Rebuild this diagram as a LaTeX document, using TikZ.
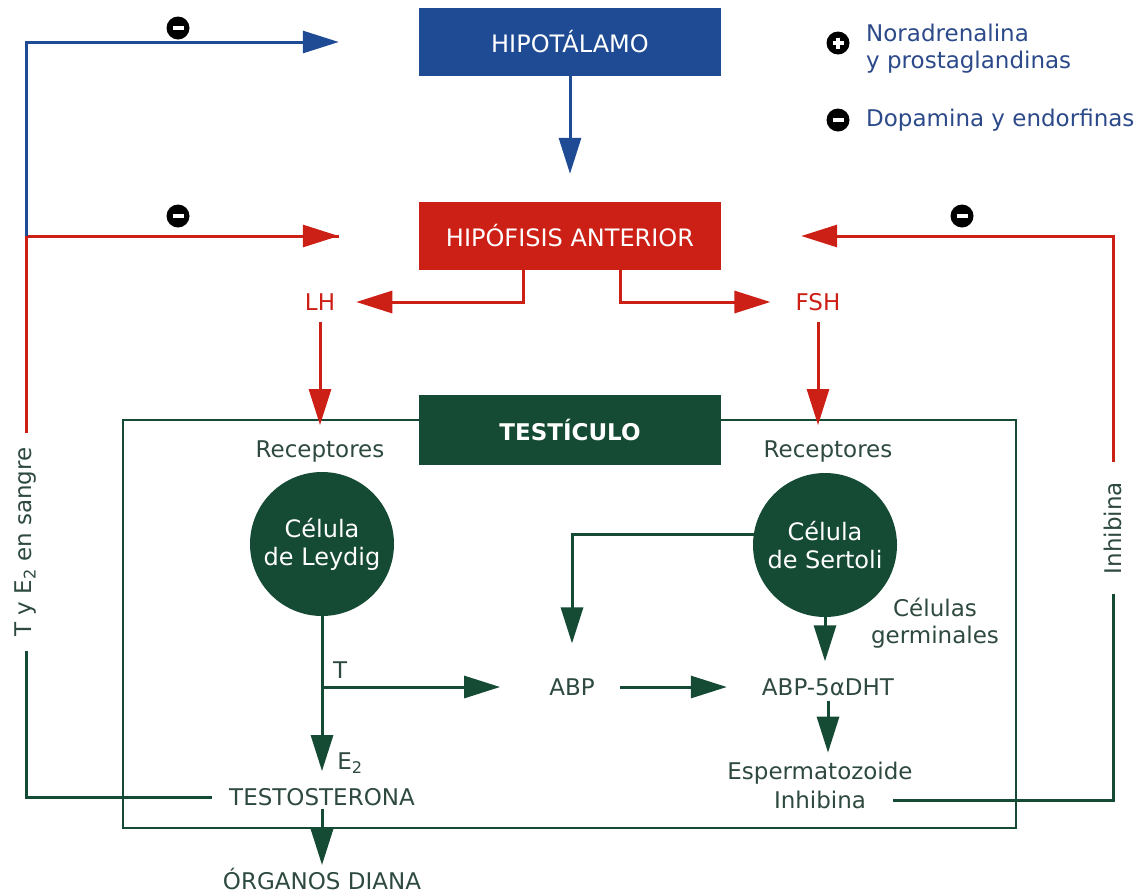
\documentclass[tikz,border=0pt]{standalone}
\usepackage{fontspec}
\setmainfont{DejaVu Sans}
\usetikzlibrary{arrows.meta,calc}

\definecolor{hipoblue}{HTML}{1F4B94}
\definecolor{hipored}{HTML}{CC1F16}
\definecolor{testgreen}{HTML}{154A34}
\definecolor{txtgreen}{HTML}{2E4A3E}
\definecolor{legblue}{HTML}{2C4A8A}

\tikzset{
  box/.style={rectangle, minimum width=302pt, minimum height=68pt, text=white,
    font=\fontsize{24}{28}\selectfont},
  cell/.style={circle, fill=testgreen, minimum size=144pt, inner sep=0pt,
    text=white, align=center, font=\fontsize{24}{28}\selectfont},
  lbl/.style={text=txtgreen, align=center, inner sep=3pt},
  hormone/.style={text=hipored, inner sep=3pt},
  legtext/.style={text=legblue, align=left, anchor=west, inner sep=0pt},
  sign/.style={circle, fill=black, minimum size=23pt, inner sep=0pt},
  minussign/.style={sign, path picture={
    \draw[white, line width=3.4pt] ($(path picture bounding box.center)+(-5.5,0)$) -- ++(11,0);}},
  plussign/.style={sign, path picture={
    \draw[white, line width=3.4pt] ($(path picture bounding box.center)+(-5.5,0)$) -- ++(11,0);
    \draw[white, line width=3.4pt] ($(path picture bounding box.center)+(0,-5.5)$) -- ++(0,11);}},
  tip/.style={-{Triangle[length=36pt,width=22pt]}},
  blueline/.style={hipoblue, line width=3pt},
  redline/.style={hipored, line width=3pt},
  greenline/.style={testgreen, line width=3pt},
}

\begin{document}
\begin{tikzpicture}[x=1pt,y=-1pt,
  every node/.style={font=\fontsize{23}{27}\selectfont}]
  \useasboundingbox (0,0) rectangle (1142,895);

  % testis outline first, title box on top of it
  \draw[testgreen, line width=1.6pt] (123,420) rectangle (1016,828);

  % glands
  \node[box, fill=hipoblue] (hipo) at (570,42) {HIPOTÁLAMO};
  \node[box, fill=hipored] (hipof) at (570,236) {HIPÓFISIS ANTERIOR};
  \node[box, fill=testgreen, minimum height=70pt, font=\fontsize{23}{27}\selectfont\bfseries] (test) at (570,430) {TESTÍCULO};

  % hormones
  \node[hormone] (lh) at (320,302) {LH};
  \node[hormone] (fsh) at (818,302) {FSH};

  % cells
  \node[lbl] (recL) at (320,451) {Receptores};
  \node[lbl] (recS) at (828,451) {Receptores};
  \node[cell] (leydig) at (322,544) {Célula\\de Leydig};
  \node[cell] (sertoli) at (825,545) {Célula\\de Sertoli};

  % products
  \node[lbl] (abp) at (572,687) {ABP};
  \node[lbl] (dht) at (828,687) {ABP-5αDHT};
  \node[lbl] (germ) at (935,623) {Células\\germinales};
  \node[lbl] (espz) at (820,773) {Espermatozoide};
  \node[lbl] (inhb) at (820,800) {Inhibina};
  \node[lbl, anchor=south west] (tlab) at (330,682) {T};
  \node[lbl] (e2) at (350,763) {E\textsubscript{2}};
  \node[lbl] (testo) at (322,797) {TESTOSTERONA};
  \node[lbl] (org) at (322,879) {ÓRGANOS DIANA};

  % blood labels
  \node[lbl, rotate=90, inner sep=14pt] (sangre) at (26,542) {T y E\textsubscript{2} en sangre};
  \node[lbl, rotate=90, inner sep=20pt] (inhib) at (1113,528) {Inhibina};

  % signs
  \node[minussign] (m1) at (178,28) {};
  \node[minussign] (m2) at (178,216) {};
  \node[minussign] (m3) at (962,216) {};
  \node[plussign] (legplus) at (838,43) {};
  \node[minussign] (legminus) at (838,120) {};
  \node[legtext] (legnor) at (866,49) {Noradrenalina\\y prostaglandinas};
  \node[legtext] (legdop) at (866,120) {Dopamina y endorfinas};

  % axis
  \draw[blueline, tip, shorten >=28pt] (hipo) -- (hipof);
  \draw[redline, tip] ([xshift=-47pt]hipof.south) |- ([xshift=18pt]lh.east);
  \draw[redline, tip] ([xshift=50pt]hipof.south) |- ([xshift=-22pt]fsh.west);
  \draw[redline, tip, shorten <=8pt, shorten >=12pt] (lh) -- (lh |- recL.north);
  \draw[redline, tip, shorten <=8pt, shorten >=12pt] (fsh) -- (fsh |- recS.north);

  % feedback
  \draw[redline] (sangre.east) |- ([xshift=-80pt]hipof.west) coordinate (tipr);
  \draw[redline, tip] (sangre.east |- tipr) -- (tipr);
  \draw[blueline, tip] (sangre.east |- hipof.west) |- ([xshift=-80pt]hipo.west);
  \draw[redline, tip] (inhib.east) |- ([xshift=80pt]hipof.east);
  \draw[greenline] (sangre.west) |- ([xshift=-14pt]testo.west);
  \draw[greenline] (inhib.west) |- ([xshift=24pt]inhb.east);

  % testis
  \draw[greenline, tip, shorten >=14pt] (leydig) -- (testo);
  \draw[greenline, tip, shorten >=46pt] (leydig.south |- abp) -- (abp.west);
  \draw[greenline, tip, shorten <=22pt, shorten >=32pt] (abp.east) -- (dht.west);
  \draw[greenline, tip, shorten >=32pt] (sertoli.172) -| (abp.north);
  \draw[greenline, tip, shorten >=14pt] (sertoli.south) -- (sertoli.south |- dht.north);
  \draw[greenline, tip, shorten <=2pt, shorten >=6pt] (dht.south) -- (dht.south |- espz.north);
  \draw[greenline, tip] (testo) -- (org);
\end{tikzpicture}
\end{document}
